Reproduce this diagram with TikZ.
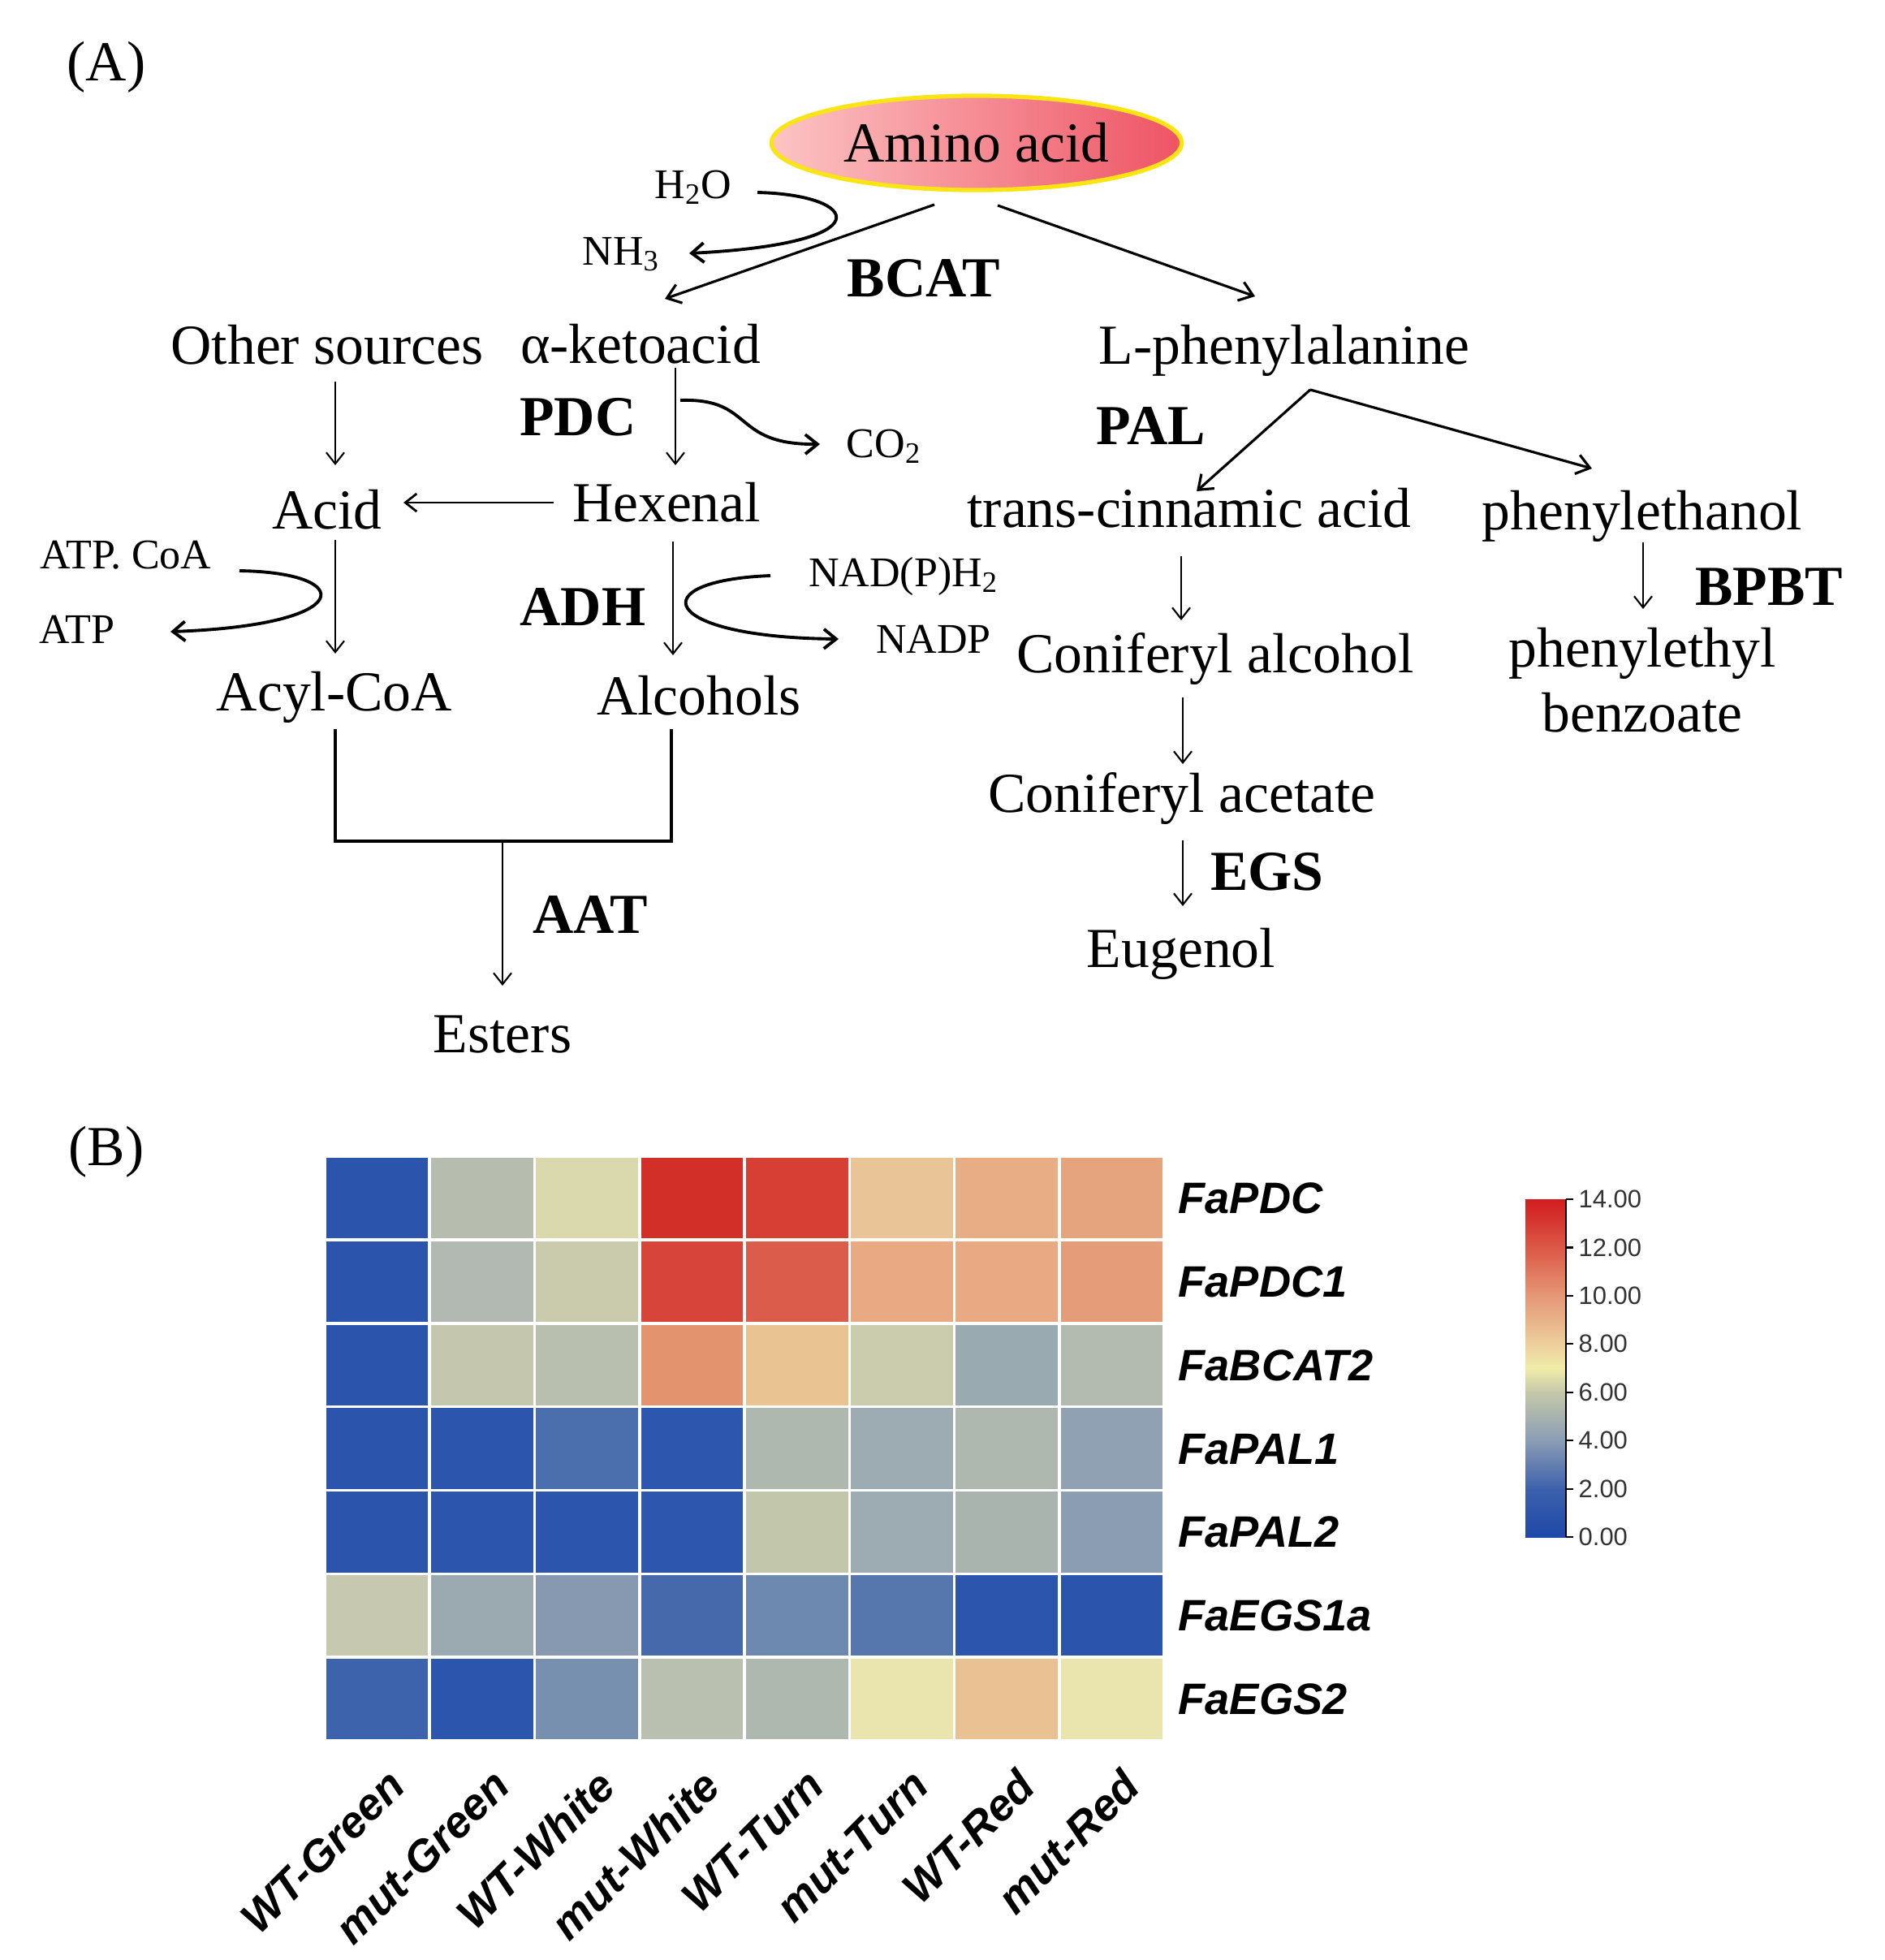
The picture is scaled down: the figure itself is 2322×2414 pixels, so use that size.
\documentclass[tikz,border=0pt]{standalone}
\usepackage{fontspec}
\setmainfont{Liberation Serif}
\newfontfamily\arialf{Liberation Sans}
\usetikzlibrary{arrows.meta,shapes.geometric}
\definecolor{amL}{RGB}{252,196,196}
\definecolor{amR}{RGB}{238,84,100}
\definecolor{amY}{RGB}{250,228,20}
\definecolor{cbA}{HTML}{1E48A8}
\definecolor{cbB}{HTML}{3D61AC}
\definecolor{cbC}{HTML}{8A9DB5}
\definecolor{cbD}{HTML}{C5C8A9}
\definecolor{cbE}{HTML}{F0ECA8}
\definecolor{cbF}{HTML}{EDCF9C}
\definecolor{cbG}{HTML}{E59777}
\definecolor{cbH}{HTML}{DC5846}
\definecolor{cbI}{HTML}{D21C1F}
\begin{document}
\begin{tikzpicture}[x=0.01cm,y=-0.01cm,
  txt/.style={font=\fontsize{19.8}{23}\selectfont, inner sep=0pt, anchor=base},
  enz/.style={font=\fontsize{19.8}{23}\selectfont\bfseries, inner sep=0pt, anchor=base},
  sml/.style={font=\fontsize{14.8}{17}\selectfont, inner sep=0pt, anchor=base},
  arr/.style={-{Straight Barb[length=1.4mm,width=2.2mm]}, line width=0.6pt},
  darr/.style={-{Straight Barb[length=1.6mm,width=2.4mm]}, line width=0.9pt},
  carr/.style={-{Straight Barb[length=1.5mm,width=2.4mm]}, line width=1.1pt},
  gene/.style={font=\arialf\bfseries\itshape\fontsize{15.4}{18}\selectfont, inner sep=0pt, anchor=base west},
  samp/.style={font=\arialf\bfseries\itshape\fontsize{15.5}{18}\selectfont, inner sep=0pt, anchor=north east, rotate=45},
  cblab/.style={font=\arialf\fontsize{8.8}{10}\selectfont, text=black!80, inner sep=0pt, anchor=west}
]
\fill[white] (0,0) rectangle (2322,2414);
\useasboundingbox (0,0) rectangle (2322,2414);

% ---------- Panel A ----------
\node[txt] (lblA) at (131,99) {(A)};
\node[ellipse, draw=amY, line width=1.5pt, left color=amL, right color=amR,
      minimum width=5.05cm, minimum height=1.16cm, inner sep=0pt,
      font=\fontsize{19.8}{23}\selectfont] (amino) at (1203,176) {Amino acid};

\node[sml] (h2o) at (854,244) {H\textsubscript{2}O};
\node[sml] (nh3) at (765,326) {NH\textsubscript{3}};
\node[enz] (bcat) at (1138,365) {BCAT};
\node[txt] (oth) at (403,448) {Other sources};
\node[txt] (keto) at (789,447) {α-ketoacid};
\node[txt] (lphe) at (1582,448) {L-phenylalanine};
\node[enz] (pdc) at (712,536) {PDC};
\node[sml] (co2) at (1089,563) {CO\textsubscript{2}};
\node[enz] (pal) at (1418,547) {PAL};
\node[txt] (acid) at (403,651) {Acid};
\node[txt] (hex) at (821,642) {Hexenal};
\node[txt] (trans) at (1465,649) {trans-cinnamic acid};
\node[txt] (phe) at (2023,652) {phenylethanol};
\node[sml] (atpcoa) at (155,700) {ATP. CoA};
\node[sml] (atp) at (95,792) {ATP};
\node[enz] (adh) at (718,770) {ADH};
\node[sml] (nadph) at (1113,722) {NAD(P)H\textsubscript{2}};
\node[sml] (nadp) at (1150,804) {NADP};
\node[txt] (acyl) at (412,875) {Acyl-CoA};
\node[txt] (alc) at (861,880) {Alcohols};
\node[txt] (conalc) at (1497,828) {Coniferyl alcohol};
\node[enz] (bpbt) at (2179,745) {BPBT};
\node[txt] (pheyl) at (2023,821) {phenylethyl};
\node[txt] (benz) at (2023,901) {benzoate};
\node[txt] (conac) at (1456,1000) {Coniferyl acetate};
\node[enz] (egs) at (1561,1096) {EGS};
\node[txt] (eug) at (1455,1191) {Eugenol};
\node[enz] (aat) at (727,1149) {AAT};
\node[txt] (est) at (619,1296) {Esters};

% straight arrows
\draw[arr] ([shift={(10,22)}]oth.base) -- ([shift={(10,-78)}]acid.base);
\draw[arr] ([shift={(43,6)}]keto.base) -- ([shift={(11,-69)}]hex.base);
\draw[arr, line width=0.8pt] ([shift={(-139,-23)}]hex.base) -- ([shift={(94,-32)}]acid.base);
\draw[arr] ([shift={(10,14)}]acid.base) -- ([shift={(1,-70)}]acyl.base);
\draw[arr] ([shift={(8,25)}]hex.base) -- ([shift={(-32,-73)}]alc.base);
\draw[darr] ([shift={(-52,76)}]amino.center) -- ([shift={(30,-79)}]keto.base);
\draw[darr] ([shift={(26,77)}]amino.center) -- ([shift={(-36,-83)}]lphe.base);
\coordinate (palsplit) at ([shift={(32,32)}]lphe.base);
\draw[darr] (palsplit) -- ([shift={(9,-44)}]trans.base);
\draw[darr] (palsplit) -- ([shift={(-62,-75)}]phe.base);
\draw[arr] ([shift={(-10,36)}]trans.base) -- ([shift={(-42,-64)}]conalc.base);
\draw[arr] ([shift={(-40,31)}]conalc.base) -- ([shift={(1,-59)}]conac.base);
\draw[arr] ([shift={(1,35)}]conac.base) -- ([shift={(2,-75)}]eug.base);
\draw[arr] ([shift={(1,16)}]phe.base) -- ([shift={(1,-71)}]pheyl.base);

% ester bracket
\draw[line width=0.9pt] ([shift={(1,23)}]acyl.base) -- ++(0,138) -| ([shift={(-34,18)}]alc.base);
\coordinate (join) at ([shift={(0,-260)}]est.base);
\draw[arr] (join) -- ([shift={(0,-82)}]est.base);

% curved side arrows
\draw[carr] ([shift={(79,-7)}]h2o.base) .. controls +(127,3) and +(241,-12) .. ([shift={(84,-14)}]nh3.base);
\draw[carr] ([shift={(49,46)}]keto.base) .. controls +(92,-3) and +(-110,1) .. ([shift={(-79,-16)}]co2.base);
\draw[carr] ([shift={(140,3)}]atpcoa.base) .. controls +(145,2) and +(230,-8) .. ([shift={(115,-14)}]atp.base);
\draw[carr] ([shift={(-164,-13)}]nadph.base) .. controls +(-159,6) and +(-223,-2) .. ([shift={(-117,-17)}]nadp.base);

% ---------- Panel B ----------
\node[txt] (lblB) at (131,1435) {(B)};

\foreach \rowc [count=\i] in {
 {2B55AC,B6BDAF,DAD9AD,D12F27,D73F35,E9C497,E8AD84,E6A47E},
 {2B55AC,B1B9B2,CACBAD,D6443A,DB5C4B,E8A983,E8A983,E49C79},
 {2B55AC,C4C7AD,B8BFAE,E3946F,EAC392,CACCAD,9AAAB1,B3BBB1},
 {2B55AC,2C56AD,4B6FAC,2D57AE,AEB8AE,9CACB2,AEB8AE,8FA1B2},
 {2B55AC,2C56AD,2C56AD,2D57AE,C2C7AC,9CACB2,AAB4AE,8B9DB2},
 {C6C9AF,9BAAB0,8699B0,4669AC,6E89B0,5677AE,2C56AD,2B55AC},
 {3D63AD,2C56AD,7890B0,BAC0AF,AFB8AF,EAE5AF,E9C193,EAE5AF}} {
  \foreach \c [count=\j] in \rowc {
    \definecolor{cellc}{HTML}{\c}
    \fill[cellc, draw=white, line width=1pt] ({400+(\j-1)*129.25},{1424+(\i-1)*102.86}) rectangle ++(129.25,102.86);
  }
}

\foreach \g [count=\i] in {FaPDC,FaPDC1,FaBCAT2,FaPAL1,FaPAL2,FaEGS1a,FaEGS2}
  \node[gene] (g\i) at (1451,{1424+(\i-0.5)*102.86+19}) {\g};

\foreach \s [count=\j] in {WT-Green,mut-Green,WT-White,mut-White,WT-Turn,mut-Turn,WT-Red,mut-Red}
  \node[samp] (s\j) at ({400+(\j-0.5)*129.25+10},2175) {\s};

% colour bar
\shade[bottom color=cbA, top color=cbB] (1879,1893) rectangle (1929,{1893-2*29.714});
\shade[bottom color=cbB, top color=cbC] (1879,{1893-2*29.714}) rectangle (1929,{1893-4*29.714});
\shade[bottom color=cbC, top color=cbD] (1879,{1893-4*29.714}) rectangle (1929,{1893-6*29.714});
\shade[bottom color=cbD, top color=cbE] (1879,{1893-6*29.714}) rectangle (1929,{1893-7*29.714});
\shade[bottom color=cbE, top color=cbF] (1879,{1893-7*29.714}) rectangle (1929,{1893-8*29.714});
\shade[bottom color=cbF, top color=cbG] (1879,{1893-8*29.714}) rectangle (1929,{1893-10*29.714});
\shade[bottom color=cbG, top color=cbH] (1879,{1893-10*29.714}) rectangle (1929,{1893-12*29.714});
\shade[bottom color=cbH, top color=cbI] (1879,{1893-12*29.714}) rectangle (1929,{1893-14*29.714});
\draw[line width=0.6pt] (1929,1477) -- (1929,1893);
\foreach \v/\t in {0/0.00,2/2.00,4/4.00,6/6.00,8/8.00,10/10.00,12/12.00,14/14.00} {
  \draw[line width=0.6pt] (1929,{1893-\v*29.714}) -- (1938,{1893-\v*29.714});
  \node[cblab] (cb\v) at (1944,{1893-\v*29.714}) {\t};
}
\end{tikzpicture}
\end{document}
